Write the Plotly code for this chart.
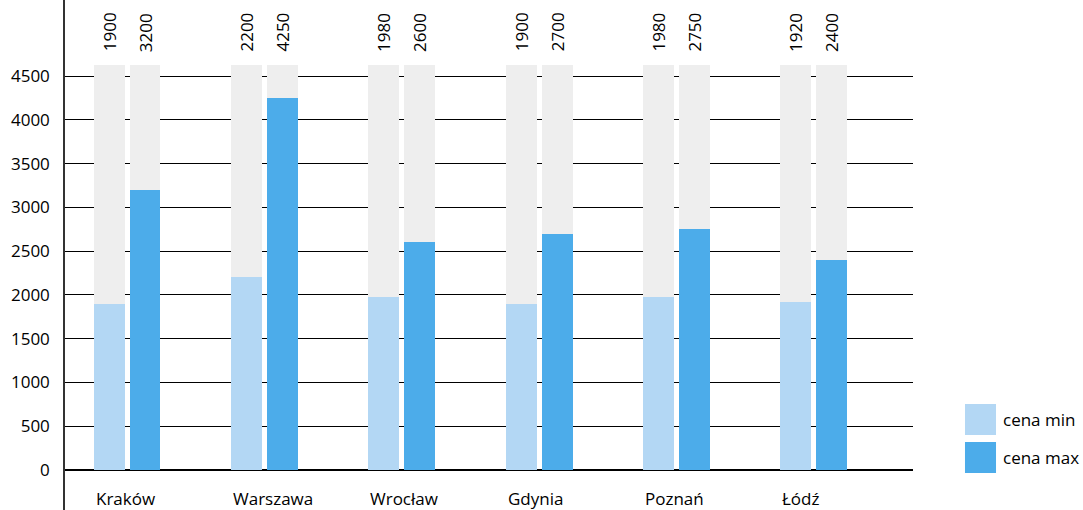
import plotly.graph_objects as go

cities = ["Kraków", "Warszawa", "Wrocław", "Gdynia", "Poznań", "Łódź"]
cena_min = [1900, 2200, 1980, 1900, 1980, 1920]
cena_max = [3200, 4250, 2600, 2700, 2750, 2400]
y_ticks = [0, 500, 1000, 1500, 2000, 2500, 3000, 3500, 4000, 4500]
bg_level = 4620

FONT = "Open Sans"
FS = 17
TXT = "#000"
C_MIN = "#b3d7f4"
C_MAX = "#4cacea"
C_BG = "#eeeeee"

xs = list(range(len(cities)))
w = 0.2257
off_min = -0.2439
off_max = 0.0182

fig = go.Figure()
for off in (off_min, off_max):
    fig.add_trace(go.Bar(x=xs, y=[bg_level] * len(xs), width=w, offset=off,
                         marker=dict(color=C_BG, line=dict(width=0)),
                         showlegend=False, hoverinfo="skip"))
fig.add_trace(go.Bar(x=xs, y=cena_min, width=w, offset=off_min, name="cena min",
                     marker=dict(color=C_MIN, line=dict(width=0)), showlegend=False))
fig.add_trace(go.Bar(x=xs, y=cena_max, width=w, offset=off_max, name="cena max",
                     marker=dict(color=C_MAX, line=dict(width=0)), showlegend=False))

annotations = []
for i, (a, b) in enumerate(zip(cena_min, cena_max)):
    for off, v in ((off_min, a), (off_max, b)):
        annotations.append(dict(x=i + off + w / 2, y=5000, xref="x", yref="y",
                                text=str(v), textangle=-90, showarrow=False,
                                font=dict(family=FONT, size=FS, color=TXT)))
    annotations.append(dict(x=i + off_min, y=-320, xref="x", yref="y",
                            text=cities[i], xanchor="left", showarrow=False,
                            font=dict(family=FONT, size=FS, color=TXT)))

# legend
shapes = []
for k, (lab, col) in enumerate((("cena min", C_MIN), ("cena max", C_MAX))):
    y0 = 0.208 - k * 0.0745
    shapes.append(dict(type="rect", xref="paper", yref="paper",
                       x0=1.0613, x1=1.0979, y0=y0 - 0.061, y1=y0,
                       fillcolor=col, line=dict(width=0)))
    annotations.append(dict(xref="paper", yref="paper", x=1.104, y=y0 - 0.0305,
                            text=lab, xanchor="left", yanchor="middle", showarrow=False,
                            font=dict(family=FONT, size=FS, color=TXT)))

fig.update_layout(
    width=1083, height=510,
    margin=dict(l=65, r=170, t=0, b=0),
    plot_bgcolor="white", paper_bgcolor="white",
    barmode="overlay", bargap=0,
    showlegend=False,
    annotations=annotations, shapes=shapes,
    font=dict(family=FONT, size=FS, color=TXT),
)
fig.update_xaxes(range=[-0.4514, 5.723], showticklabels=False, showgrid=False,
                 zeroline=False, showline=False, fixedrange=True)
fig.update_yaxes(range=[-457, 5368], tickvals=y_ticks, showgrid=True,
                 gridcolor="#000", gridwidth=1, zeroline=True, zerolinecolor="#000",
                 zerolinewidth=2, showline=True, linecolor="#333", linewidth=1.5,
                 ticks="outside", ticklen=10, tickcolor="rgba(0,0,0,0)",
                 tickfont=dict(family=FONT, size=FS, color=TXT), fixedrange=True)

fig.write_html("out.html")
